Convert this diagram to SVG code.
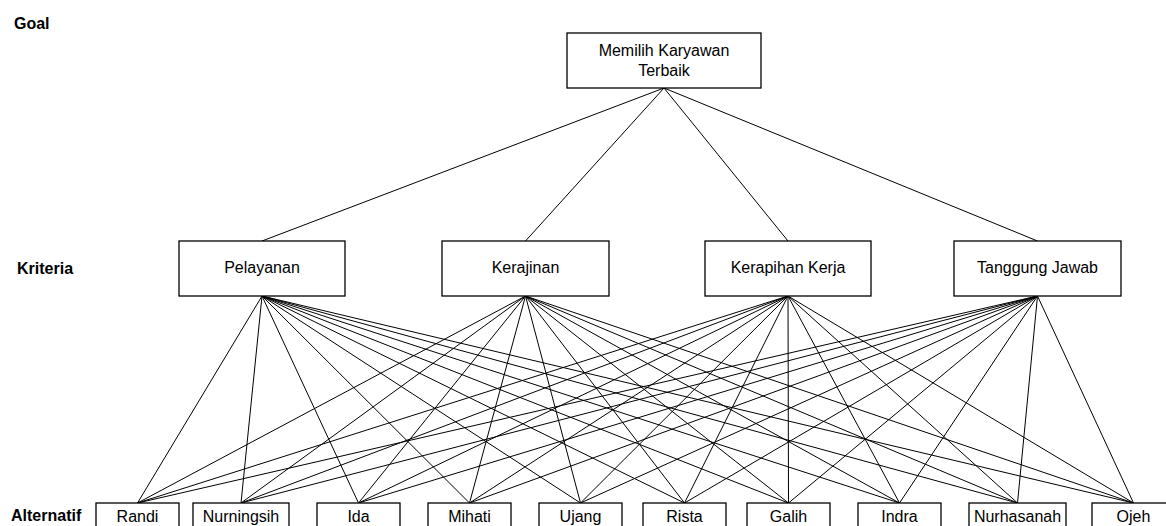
<svg xmlns="http://www.w3.org/2000/svg" width="1166" height="526" viewBox="0 0 1166 526">
<style>
.box{fill:#fff;stroke:#000;stroke-width:1.3}
.t{font-family:"Liberation Sans",Arial,sans-serif;font-size:16px;fill:#000;text-anchor:middle}
.lab{font-family:"Liberation Sans",Arial,sans-serif;font-size:16px;font-weight:bold;fill:#000}
.c line{stroke:#000;stroke-width:1}
</style>
<rect width="1166" height="526" fill="#fff"/>
<text class="lab" x="14" y="29">Goal</text>
<text class="lab" x="17" y="274">Kriteria</text>
<text class="lab" x="11" y="521">Alternatif</text>
<g id="connectors" class="c">
<line x1="664" y1="88" x2="262" y2="241"/>
<line x1="664" y1="88" x2="525.5" y2="241"/>
<line x1="664" y1="88" x2="788" y2="241"/>
<line x1="664" y1="88" x2="1037.5" y2="241"/>
<line x1="262" y1="296" x2="137.5" y2="503"/>
<line x1="262" y1="296" x2="241" y2="503"/>
<line x1="262" y1="296" x2="358.5" y2="503"/>
<line x1="262" y1="296" x2="469.5" y2="503"/>
<line x1="262" y1="296" x2="580.5" y2="503"/>
<line x1="262" y1="296" x2="684.5" y2="503"/>
<line x1="262" y1="296" x2="788.5" y2="503"/>
<line x1="262" y1="296" x2="899.5" y2="503"/>
<line x1="262" y1="296" x2="1017.5" y2="503"/>
<line x1="262" y1="296" x2="1133.5" y2="503"/>
<line x1="525.5" y1="296" x2="137.5" y2="503"/>
<line x1="525.5" y1="296" x2="241" y2="503"/>
<line x1="525.5" y1="296" x2="358.5" y2="503"/>
<line x1="525.5" y1="296" x2="469.5" y2="503"/>
<line x1="525.5" y1="296" x2="580.5" y2="503"/>
<line x1="525.5" y1="296" x2="684.5" y2="503"/>
<line x1="525.5" y1="296" x2="788.5" y2="503"/>
<line x1="525.5" y1="296" x2="899.5" y2="503"/>
<line x1="525.5" y1="296" x2="1017.5" y2="503"/>
<line x1="525.5" y1="296" x2="1133.5" y2="503"/>
<line x1="788" y1="296" x2="137.5" y2="503"/>
<line x1="788" y1="296" x2="241" y2="503"/>
<line x1="788" y1="296" x2="358.5" y2="503"/>
<line x1="788" y1="296" x2="469.5" y2="503"/>
<line x1="788" y1="296" x2="580.5" y2="503"/>
<line x1="788" y1="296" x2="684.5" y2="503"/>
<line x1="788" y1="296" x2="788.5" y2="503"/>
<line x1="788" y1="296" x2="899.5" y2="503"/>
<line x1="788" y1="296" x2="1017.5" y2="503"/>
<line x1="788" y1="296" x2="1133.5" y2="503"/>
<line x1="1037.5" y1="296" x2="137.5" y2="503"/>
<line x1="1037.5" y1="296" x2="241" y2="503"/>
<line x1="1037.5" y1="296" x2="358.5" y2="503"/>
<line x1="1037.5" y1="296" x2="469.5" y2="503"/>
<line x1="1037.5" y1="296" x2="580.5" y2="503"/>
<line x1="1037.5" y1="296" x2="684.5" y2="503"/>
<line x1="1037.5" y1="296" x2="788.5" y2="503"/>
<line x1="1037.5" y1="296" x2="899.5" y2="503"/>
<line x1="1037.5" y1="296" x2="1017.5" y2="503"/>
<line x1="1037.5" y1="296" x2="1133.5" y2="503"/>
</g>
<g id="goal"><rect class="box" x="567" y="33" width="194" height="55"/><text class="t" x="664" y="56">Memilih Karyawan</text><text class="t" x="664" y="76">Terbaik</text></g>
<g id="pelayanan"><rect class="box" x="179" y="241" width="166" height="55"/><text class="t" x="262" y="273">Pelayanan</text></g>
<g id="kerajinan"><rect class="box" x="442" y="241" width="167" height="55"/><text class="t" x="525.5" y="273">Kerajinan</text></g>
<g id="kerapihan"><rect class="box" x="705" y="241" width="166" height="55"/><text class="t" x="788" y="273">Kerapihan Kerja</text></g>
<g id="tanggung"><rect class="box" x="954" y="241" width="167" height="55"/><text class="t" x="1037.5" y="273">Tanggung Jawab</text></g>
<g id="randi"><rect class="box" x="96" y="503" width="83" height="40"/><text class="t" x="137.5" y="522">Randi</text></g>
<g id="nurningsih"><rect class="box" x="193" y="503" width="96" height="40"/><text class="t" x="241" y="522">Nurningsih</text></g>
<g id="ida"><rect class="box" x="317" y="503" width="83" height="40"/><text class="t" x="358.5" y="522">Ida</text></g>
<g id="mihati"><rect class="box" x="428" y="503" width="83" height="40"/><text class="t" x="469.5" y="522">Mihati</text></g>
<g id="ujang"><rect class="box" x="539" y="503" width="83" height="40"/><text class="t" x="580.5" y="522">Ujang</text></g>
<g id="rista"><rect class="box" x="643" y="503" width="83" height="40"/><text class="t" x="684.5" y="522">Rista</text></g>
<g id="galih"><rect class="box" x="747" y="503" width="83" height="40"/><text class="t" x="788.5" y="522">Galih</text></g>
<g id="indra"><rect class="box" x="858" y="503" width="83" height="40"/><text class="t" x="899.5" y="522">Indra</text></g>
<g id="nurhasanah"><rect class="box" x="969" y="503" width="97" height="40"/><text class="t" x="1017.5" y="522">Nurhasanah</text></g>
<g id="ojeh"><rect class="box" x="1092" y="503" width="83" height="40"/><text class="t" x="1133.5" y="522">Ojeh</text></g>
</svg>
